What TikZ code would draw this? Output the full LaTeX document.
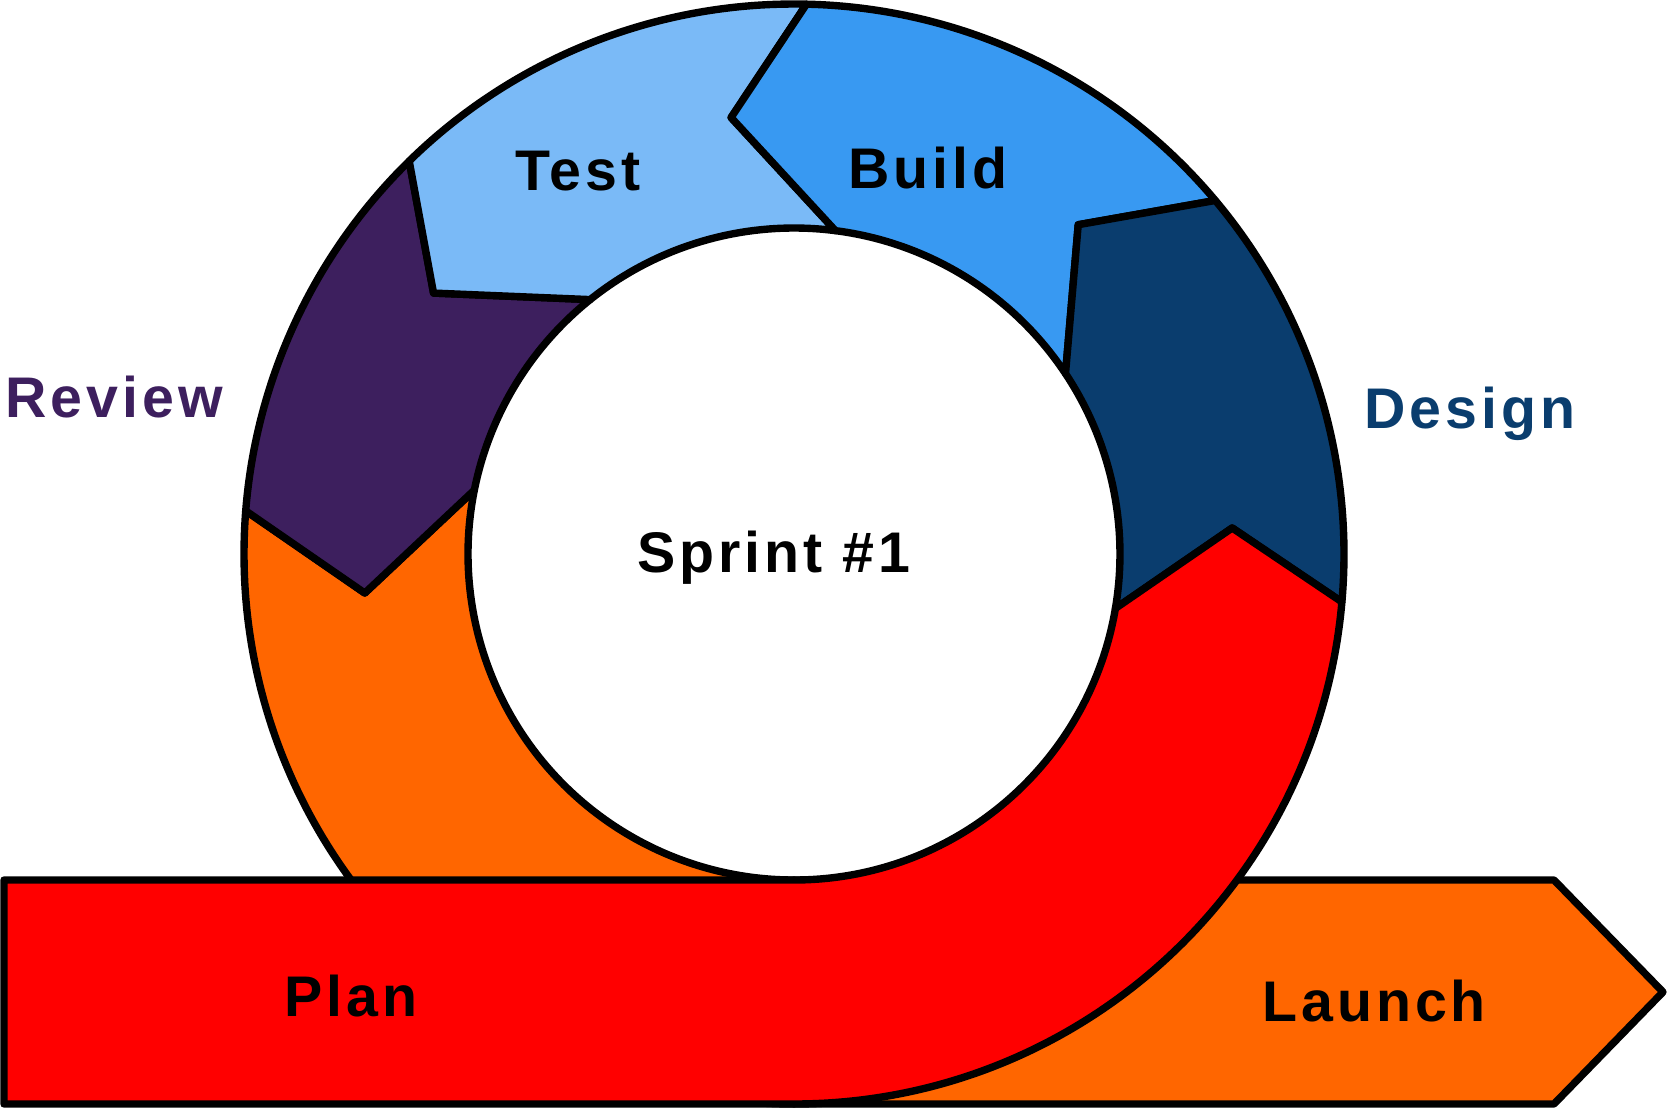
\documentclass[tikz,border=0pt]{standalone}
\usepackage{fontspec}
\setmainfont{Liberation Sans}[LetterSpace=7]
\usepackage{pgf,tikz}
\usetikzlibrary{arrows}
\definecolor{ffqqqq}{rgb}{1.0,0.0,0.0}
\definecolor{ffxxqq}{rgb}{1.0,0.4,0.0}
\definecolor{uuttff}{rgb}{0.48,0.73,0.97}
\definecolor{ttccff}{rgb}{0.22,0.6,0.95}
\definecolor{qqttxx}{rgb}{0.04,0.24,0.43}
\definecolor{ttwwxx}{rgb}{0.24,0.12,0.37}
\tikzset{ring/.style={draw=black,line width=2.1pt,shift={(7.94,5.56)}},
  lbl/.style={anchor=base,font=\fontsize{16.3}{19}\selectfont\bfseries}}
\begin{document}
\begin{tikzpicture}[line cap=round,line join=round,x=1.0cm,y=1.0cm]
\useasboundingbox (0,0) rectangle (16.7,11.1);
\clip(0,0) rectangle (16.7,11.1);
\draw [ring,fill=ffxxqq] (175.5:5.5) arc (175.5:270:5.5) -- (270:3.26) arc (270:168.7:3.26) -- (185.2:4.31) -- cycle;
\draw [ring,fill=ttwwxx] (134.4:5.5) arc (134.4:175.5:5.5) -- (185.2:4.31) -- (168.7:3.26) arc (168.7:128.7:3.26) -- (144.1:4.45) -- cycle;
\draw [ring,fill=uuttff] (88.7:5.5) arc (88.7:134.4:5.5) -- (144.1:4.45) -- (128.7:3.26) arc (128.7:82.7:3.26) -- (98.2:4.41) -- cycle;
\draw [ring,fill=ttccff] (40:5.5) arc (40:88.7:5.5) -- (98.2:4.41) -- (82.7:3.26) arc (82.7:33.6:3.26) -- (49.2:4.35) -- cycle;
\draw [ring,fill=qqttxx] (-5:5.5) arc (-5:40:5.5) -- (49.2:4.35) -- (33.6:3.26) arc (33.6:-9.6:3.26) -- (3.4:4.39) -- cycle;
\draw [line width=2.1pt,fill=ffxxqq] (7.94,0.06) -- (15.54,0.06) -- (16.63,1.18) -- (15.54,2.30) -- (7.94,2.30) -- cycle;
\draw [ring,fill=ffqqqq] (-7.9,-3.26) -- (270:3.26) arc (270:350.4:3.26) -- (3.4:4.39) -- (-5:5.5) arc (355:270:5.5) -- (-7.9,-5.5) -- cycle;
\node[lbl] (test) at (5.78,9.20) {Test};
\node[lbl] (build) at (9.28,9.22) {Build};
\node[lbl,color=ttwwxx] (review) at (1.14,6.93) {Review};
\node[lbl,color=qqttxx] (design) at (14.70,6.82) {Design};
\node[lbl] (sprint) at (7.74,5.38) {Sprint \#1};
\node[lbl] (plan) at (3.51,0.94) {Plan};
\node[lbl] (launch) at (13.74,0.89) {Launch};
\end{tikzpicture}
\end{document}
